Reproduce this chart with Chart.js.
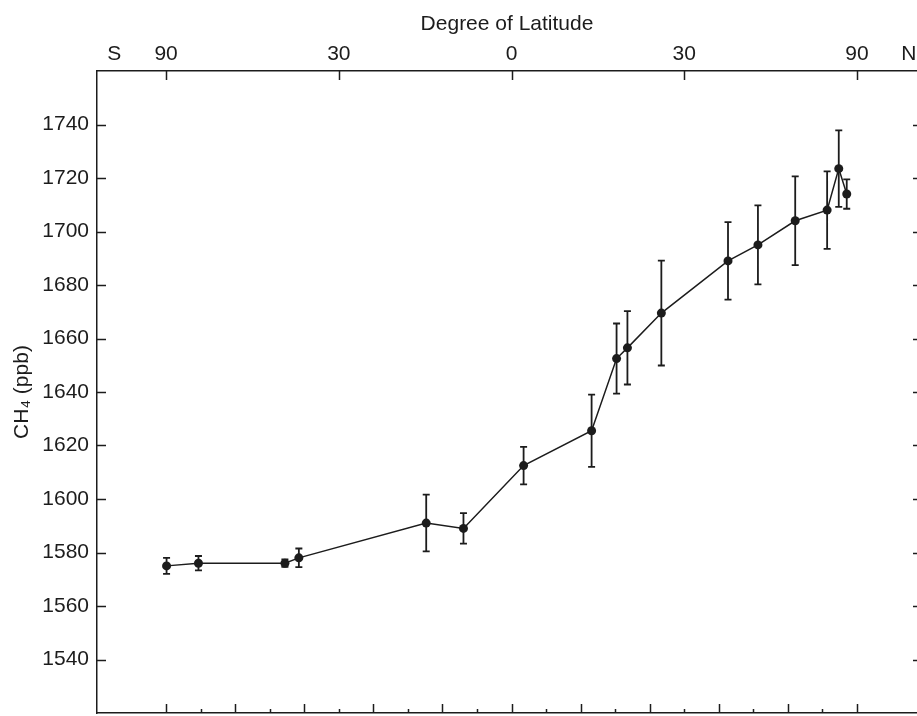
<!DOCTYPE html>
<html>
<head>
<meta charset="utf-8">
<style>
  html, body { margin: 0; padding: 0; background: #fff; overflow: hidden; }
</style>
</head>
<body>
<canvas id="ch4_chart" width="917" height="716"></canvas>

<script src="https://cdn.jsdelivr.net/npm/chart.js"></script>
<script>
    // latitude in degrees (negative = south), CH4 in ppb, +/- error in ppb
    const latitude = [-87, -65, -41, -38, -14.3, -8, 2, 13.4, 17.7, 19.6, 25.7, 38.8, 45.5, 55.2, 66, 71.3, 76];
    const ch4 = [1575, 1576, 1576, 1578, 1591, 1589, 1612.5, 1625.5, 1652.5, 1656.5, 1669.5, 1689, 1695, 1704, 1708, 1723.5, 1714];
    const ch4Err = [3, 2.7, 1.4, 3.5, 10.6, 5.7, 7, 13.5, 13.1, 13.7, 19.6, 14.5, 14.8, 16.6, 14.5, 14.3, 5.5];

    const yTicks = [1540, 1560, 1580, 1600, 1620, 1640, 1660, 1680, 1700, 1720, 1740];
    const topTickLat = [-90, -30, 0, 30, 90];
    const topTickLabels = ['90', '30', '0', '30', '90'];

    const ink = '#1c1c1c';
    const fontFamily = "'Liberation Sans', Arial, sans-serif";

    // the x axis is the sine of latitude (equal area)
    const sinDeg = d => Math.sin(d * Math.PI / 180);
    const points = latitude.map((lat, i) => ({ x: sinDeg(lat), y: ch4[i] }));

    const errorBars = {
        id: 'errorBars',
        beforeDatasetsDraw(chart) {
            const { ctx, scales: { x, y } } = chart;
            ctx.save();
            ctx.strokeStyle = ink;
            ctx.lineWidth = 1.8;
            ctx.beginPath();
            points.forEach((p, i) => {
                const px = x.getPixelForValue(p.x);
                const top = y.getPixelForValue(p.y + ch4Err[i]);
                const bot = y.getPixelForValue(p.y - ch4Err[i]);
                ctx.moveTo(px, top); ctx.lineTo(px, bot);
                ctx.moveTo(px - 3.5, top); ctx.lineTo(px + 3.5, top);
                ctx.moveTo(px - 3.5, bot); ctx.lineTo(px + 3.5, bot);
            });
            ctx.stroke();
            ctx.restore();
        }
    };

    // tick marks point into the plot on every side
    const innerTicks = {
        id: 'innerTicks',
        afterDraw(chart) {
            const { ctx, chartArea: a, scales: { x, x2, y } } = chart;
            ctx.save();
            ctx.strokeStyle = ink;
            ctx.lineWidth = 1.5;
            ctx.beginPath();
            yTicks.forEach(v => {
                const py = Math.round(y.getPixelForValue(v)) + 0.5;
                ctx.moveTo(a.left, py); ctx.lineTo(a.left + 9, py);
                ctx.moveTo(a.right, py); ctx.lineTo(a.right - 4, py);
            });
            topTickLat.forEach(lat => {
                const px = Math.round(x2.getPixelForValue(sinDeg(lat))) + 0.5;
                ctx.moveTo(px, a.top); ctx.lineTo(px, a.top + 9);
            });
            for (let k = -10; k <= 10; k++) {
                const px = Math.round(x.getPixelForValue(k / 10)) + 0.5;
                const len = k % 2 === 0 ? 9 : 4;
                ctx.moveTo(px, a.bottom); ctx.lineTo(px, a.bottom - len);
            }
            ctx.stroke();
            ctx.restore();
        }
    };

    const xMin = -1.2;
    const xMax = 1.1737;

    const ch4_chart = new Chart(document.getElementById('ch4_chart'), {
        type: 'line',
        data: {
            datasets: [{
                data: points,
                borderColor: ink,
                borderWidth: 1.5,
                pointRadius: 4.5,
                pointBackgroundColor: ink,
                pointBorderWidth: 0,
                tension: 0,
            }]
        },
        options: {
            responsive: false,
            animation: false,
            devicePixelRatio: 1,
            layout: { padding: 0, autoPadding: false },
            plugins: {
                legend: { display: false },
                tooltip: { enabled: false }
            },
            scales: {
                x: {
                    type: 'linear',
                    position: 'bottom',
                    min: xMin,
                    max: xMax,
                    ticks: { display: false },
                    grid: { display: false, drawTicks: false },
                    border: { display: true, color: ink, width: 1.5 },
                    afterFit: s => { s.height = 3; s.paddingLeft = 0; s.paddingRight = 0; }
                },
                x2: {
                    type: 'linear',
                    position: 'top',
                    min: xMin,
                    max: xMax,
                    afterBuildTicks: s => {
                        s.ticks = [{ value: -1.15 }]
                            .concat(topTickLat.map(lat => ({ value: sinDeg(lat) })))
                            .concat([{ value: 1.15 }]);
                    },
                    ticks: {
                        color: ink,
                        padding: 4,
                        maxRotation: 0,
                        autoSkip: false,
                        font: { family: fontFamily, size: 21 },
                        callback: (v, i) => ['S'].concat(topTickLabels, ['N'])[i]
                    },
                    grid: { display: false, drawTicks: false },
                    border: { display: true, color: ink, width: 1.5 },
                    title: {
                        display: true,
                        text: 'Degree of Latitude',
                        color: ink,
                        font: { family: fontFamily, size: 21 },
                        padding: { top: 12, bottom: 0 }
                    },
                    afterFit: s => { s.height = 71; s.paddingLeft = 0; s.paddingRight = 0; }
                },
                y: {
                    min: 1520,
                    max: 1760,
                    afterBuildTicks: s => { s.ticks = yTicks.map(v => ({ value: v })); },
                    ticks: {
                        color: ink,
                        padding: 8,
                        font: { family: fontFamily, size: 21 },
                        callback: v => String(v)
                    },
                    grid: { display: false, drawTicks: false },
                    border: { display: true, color: ink, width: 1.5 },
                    title: {
                        display: true,
                        text: 'CH₄ (ppb)',
                        color: ink,
                        font: { family: fontFamily, size: 21 },
                        padding: { top: 10, bottom: 0 }
                    },
                    afterFit: s => { s.width = 97; s.paddingTop = 0; s.paddingBottom = 0; }
                }
            }
        },
        plugins: [errorBars, innerTicks]
    });
</script>
</body>
</html>
